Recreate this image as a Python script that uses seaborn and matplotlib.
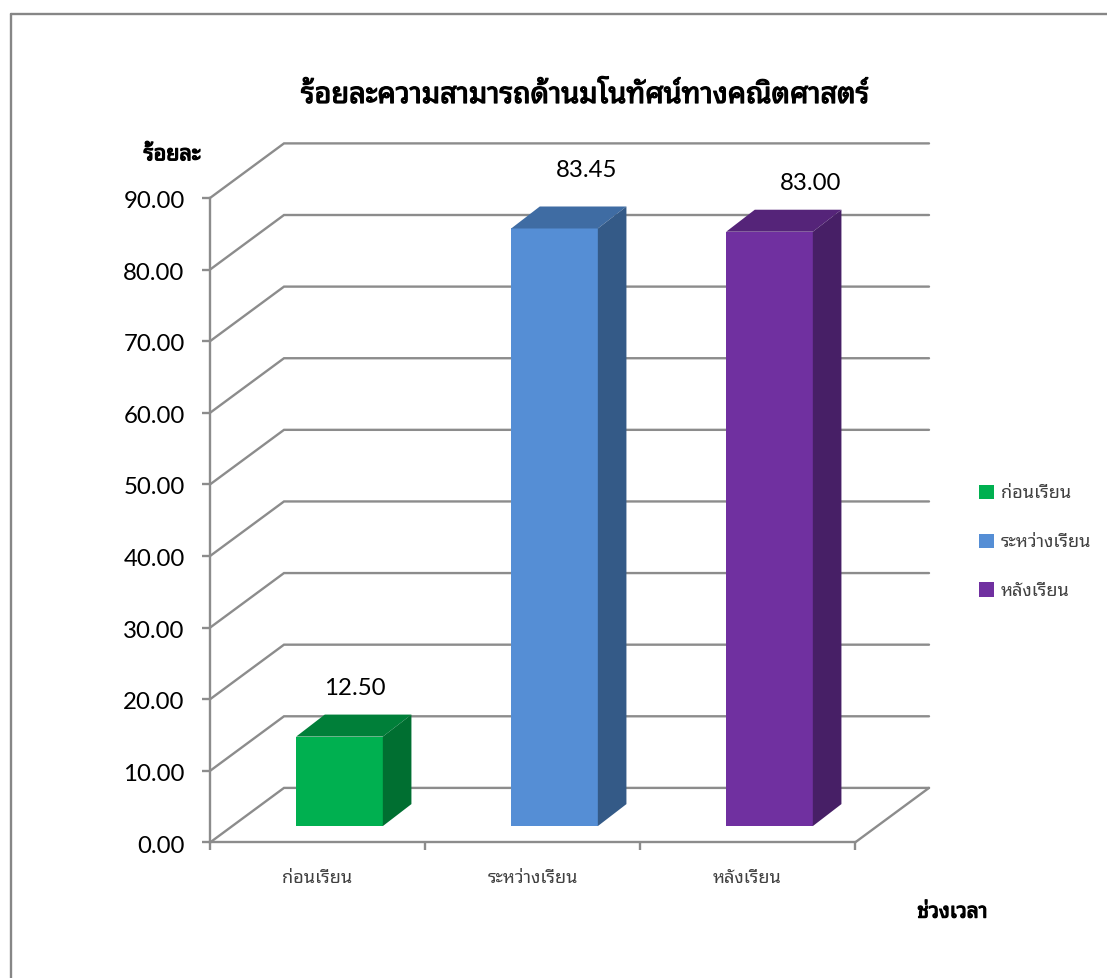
import matplotlib
matplotlib.use("Agg")
import matplotlib.pyplot as plt
import matplotlib.patheffects as pe
from matplotlib.lines import Line2D
from matplotlib.transforms import ScaledTranslation
import pandas as pd
import seaborn as sns

# Chart data
periods = ["ก่อนเรียน", "ระหว่างเรียน", "หลังเรียน"]
percentages = [12.50, 83.45, 83.00]
y_ticks = [0, 10, 20, 30, 40, 50, 60, 70, 80, 90]

title_text = "ร้อยละความสามารถด้านมโนทัศน์ทางคณิตศาสตร์"
y_title = "ร้อยละ"
x_title = "ช่วงเวลา"

# Face colours for each bar
front_colors = ["#00B050", "#558ED5", "#7030A0"]
top_colors = ["#007F39", "#3F6CA3", "#552479"]
side_colors = ["#006F31", "#345A87", "#471F66"]

W, H = 1107, 978
GRAY = "#8C8C8C"
LINE = 1.7
THAI = "Noto Sans Thai Looped"
DIGITS = "Lato"

sns.set_theme(style="white")
plt.rcParams["font.family"] = [THAI, "DejaVu Sans"]

fig = plt.figure(figsize=((W + 0.01) / 100, (H + 0.01) / 100), dpi=100, facecolor="white")
ax = fig.add_axes([210 / W, 1 - 842.5 / H, 645 / W, 644.5 / H])

frame = pd.DataFrame({"period": periods, "percent": percentages})
sns.barplot(
    data=frame, x="period", y="percent", hue="period", palette=front_colors,
    order=periods, hue_order=periods, dodge=False, width=0.403, saturation=1,
    ax=ax, zorder=3, linewidth=0, errorbar=None, legend=False,
)
ax.set_xlim(-0.5, 2.5)
ax.set_ylim(0, 90)

# Oblique projection: depth of the whole chart box and of the bars, in data units
px_x, px_y = 215.0, 644.5 / 90
box_dx, box_dy = 74 / px_x, 54.6 / px_y
shift_dx, shift_dy = 22 / px_x, 16.4 / px_y
bar_dx, bar_dy = 28.6 / px_x, 22 / px_y

# Back wall grid and left wall diagonals
for tick in y_ticks:
    ax.plot([-0.5, -0.5 + box_dx, 2.5 + box_dx],
            [tick, tick + box_dy, tick + box_dy],
            color=GRAY, lw=LINE, clip_on=False, zorder=1, solid_joinstyle="miter")
# Right edge of the floor
ax.plot([2.5, 2.5 + box_dx], [0, box_dy], color=GRAY, lw=LINE, clip_on=False, zorder=1)

# Move each bar onto the floor and give it a top and a side face
label_nudges = [(0.5, 18.5), (13, 26), (19, 19)]
legend_handles = []
for i, container in enumerate(ax.containers):
    for bar in container:
        x0 = bar.get_x() + shift_dx
        value = bar.get_height()
        w = bar.get_width()
        bar.set_x(x0)
        bar.set_y(shift_dy)
        bar.set_clip_on(False)
        legend_handles.append(bar)
        y0, y1 = shift_dy, shift_dy + value
        x1 = x0 + w
        ax.fill([x0, x1, x1 + bar_dx, x0 + bar_dx],
                [y1, y1, y1 + bar_dy, y1 + bar_dy],
                color=top_colors[i], lw=0, clip_on=False, zorder=3)
        ax.fill([x1, x1 + bar_dx, x1 + bar_dx, x1],
                [y0, y0 + bar_dy, y1 + bar_dy, y1],
                color=side_colors[i], lw=0, clip_on=False, zorder=3)
        ax.annotate(f"{value:.2f}", xy=(x0 + w / 2 + bar_dx / 2, y1 + bar_dy),
                    xytext=label_nudges[i], textcoords="offset points",
                    ha="center", va="center", fontsize=17.3, family=DIGITS,
                    color="black", annotation_clip=False, zorder=5)

# Axes
sns.despine(ax=ax, top=True, right=True)
for side in ("left", "bottom"):
    ax.spines[side].set_color(GRAY)
    ax.spines[side].set_linewidth(LINE)
    ax.spines[side].set_zorder(2)

ax.set_yticks(y_ticks, [f"{t:.2f}" for t in y_ticks], family=DIGITS, fontsize=17.3, color="black")
ax.tick_params(axis="y", length=5.8, width=LINE, color=GRAY, pad=12.5, left=True)
drop = ScaledTranslation(0, -1.5 / 100, fig.dpi_scale_trans)
for label in ax.get_yticklabels():
    label.set_transform(label.get_transform() + drop)

ax.set_xticks(range(len(periods)), periods, fontsize=13, color="#404040")
ax.tick_params(axis="x", which="major", length=0, pad=19, bottom=True)
ax.set_xticks([-0.5, 0.5, 1.5, 2.5], minor=True)
ax.tick_params(axis="x", which="minor", length=5.8, width=LINE, color=GRAY, bottom=True)

# The Thai face ships one weight, so headings get a thin stroke for a bold look
heavy = [pe.withStroke(linewidth=0.9, foreground="black")]

ylab = ax.set_ylabel(y_title, rotation=0, fontsize=15.5, color="black", ha="center", va="center")
ax.yaxis.set_label_coords(-0.059, 1.067)
xlab = ax.set_xlabel(x_title, fontsize=15, color="black", ha="center", va="center")
ax.xaxis.set_label_coords(1.151, -0.108)
ylab.set_path_effects(heavy)
xlab.set_path_effects(heavy)

fig.text(585.5 / W, 1 - 95.5 / H, title_text, ha="center", va="center",
         fontsize=20.8, color="black", path_effects=heavy)

# Legend to the right of the plot
ax.legend(legend_handles, periods, loc="center left", bbox_to_anchor=(979 / W, 1 - 542 / H),
          bbox_transform=fig.transFigure, frameon=False, fontsize=13,
          handlelength=0.83, handleheight=0.83, handletextpad=0.37, labelspacing=1.7,
          borderpad=0, borderaxespad=0, labelcolor="#404040")

# Chart frame: only its top and left edges fall inside the image
fig.add_artist(Line2D([11 / W, 1], [1 - 14 / H, 1 - 14 / H], color="#868686", lw=LINE))
fig.add_artist(Line2D([11 / W, 11 / W], [0, 1 - 14 / H], color="#868686", lw=LINE))

fig.savefig("out.png", dpi=100)
